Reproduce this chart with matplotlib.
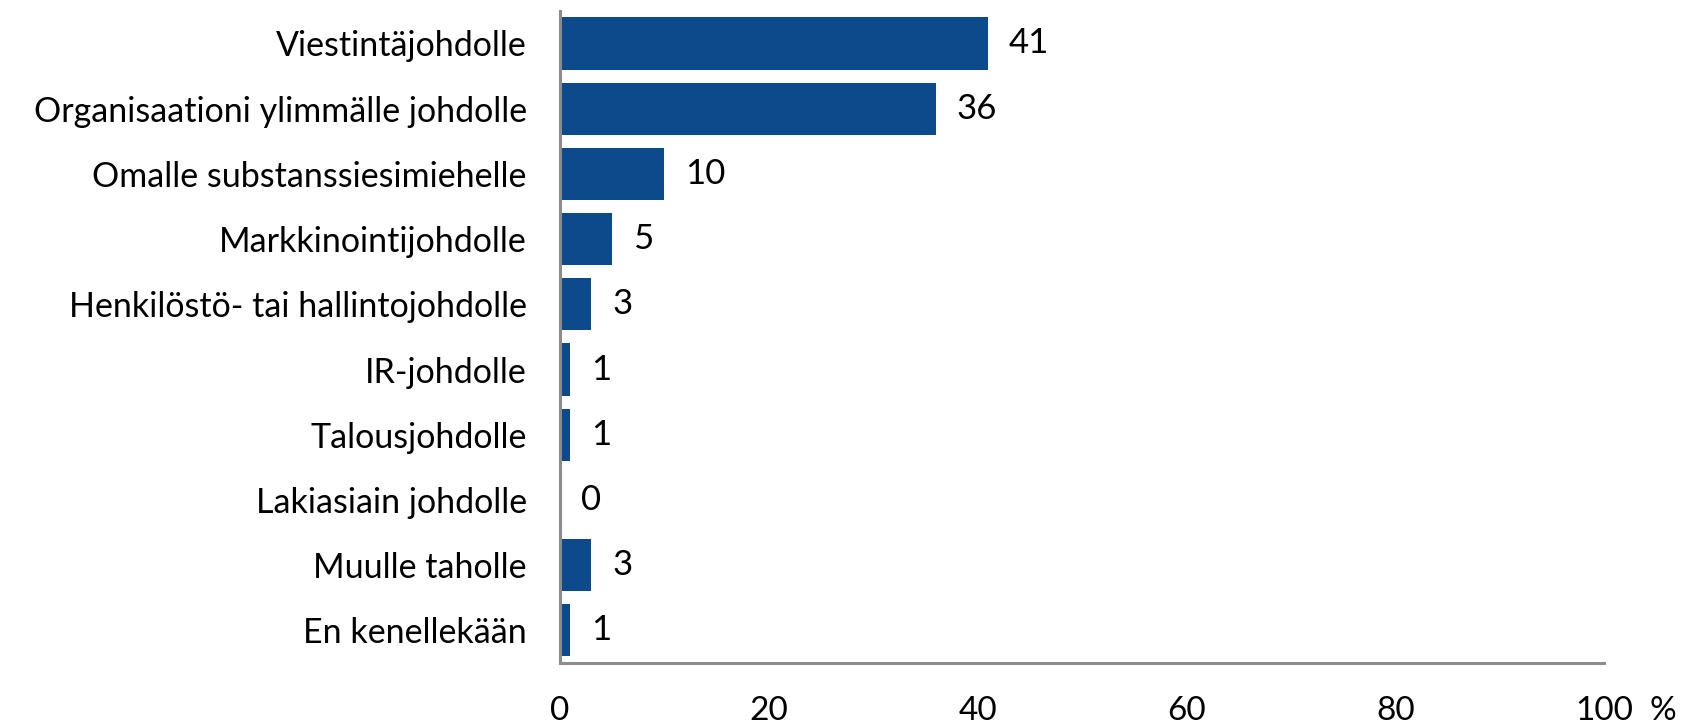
import numpy as np
import matplotlib.pyplot as plt

plt.rcParams['font.family'] = ['Lato', 'DejaVu Sans']

kategoriat = ['Viestintäjohdolle', 'Organisaationi ylimmälle johdolle',
              'Omalle substanssiesimiehelle', 'Markkinointijohdolle',
              'Henkilöstö- tai hallintojohdolle', 'IR-johdolle',
              'Talousjohdolle', 'Lakiasiain johdolle', 'Muulle taholle',
              'En kenellekään']
arvot = [41, 36, 10, 5, 3, 1, 1, 0, 3, 1]
xtikit = [0, 20, 40, 60, 80, 100]

vari = '#0d4a8b'
harmaa = '#8c8c8c'

fig = plt.figure(figsize=(16.92, 7.24), dpi=100)
ax = fig.add_axes([0.331, 0.0843, 0.617, 0.9007])

y = np.arange(len(kategoriat))
palkit = ax.barh(y, arvot, height=0.8, color=vari)
for p, a in zip(palkit, arvot):
    ax.annotate(str(a), (p.get_width(), p.get_y() + p.get_height() / 2),
                xytext=(15, 0), textcoords='offset points',
                ha='left', va='center', fontsize=25)

ax.set_ylim(len(kategoriat) - 0.5, -0.5)
ax.set_xlim(0, 100)
ax.set_yticks(y)
ax.set_yticklabels(kategoriat, fontsize=24.5)
ax.set_xticks(xtikit)
ax.tick_params(axis='both', length=0)
ax.tick_params(axis='x', labelsize=24)
ax.tick_params(axis='y', pad=24)
ax.tick_params(axis='x', pad=24)

for s in ['top', 'right']:
    ax.spines[s].set_visible(False)
for s in ['left', 'bottom']:
    ax.spines[s].set_color(harmaa)
    ax.spines[s].set_linewidth(2.2)

fig.text(0.983, 0.0843 - 0.066, '%', fontsize=24, ha='center', va='center')

fig.savefig('out.png', dpi=100)
